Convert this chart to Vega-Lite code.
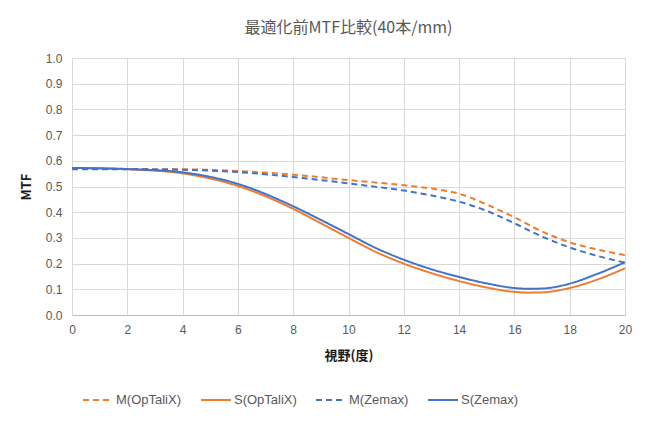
{
  "$schema": "https://vega.github.io/schema/vega-lite/v6.json",
  "width": 553,
  "height": 257,
  "autosize": {"type": "none"},
  "padding": {"left": 72, "top": 58, "right": 21, "bottom": 107},
  "background": "white",
  "title": {
    "text": "最適化前MTF比較(40本/mm)",
    "font": "Noto Sans CJK JP",
    "fontSize": 16,
    "fontWeight": "normal",
    "color": "#595959",
    "anchor": "middle",
    "offset": 16
  },
  "config": {
    "view": {"stroke": null},
    "axis": {
      "labelFont": "Liberation Sans",
      "labelFontSize": 12,
      "labelColor": "#595959",
      "gridColor": "#d9d9d9",
      "gridWidth": 1,
      "domainColor": "#bfbfbf",
      "tickSize": 0,
      "labelFlush": false,
      "titleFont": "Noto Sans CJK JP",
      "titleFontSize": 13,
      "titleFontWeight": "bold",
      "titleColor": "#1a1a1a"
    }
  },
  "data": {
    "values": [
      {"x": 0, "y": 0.570, "s": "M(OpTaliX)"},
      {"x": 2, "y": 0.568, "s": "M(OpTaliX)"},
      {"x": 4, "y": 0.567, "s": "M(OpTaliX)"},
      {"x": 6, "y": 0.560, "s": "M(OpTaliX)"},
      {"x": 8, "y": 0.546, "s": "M(OpTaliX)"},
      {"x": 10, "y": 0.525, "s": "M(OpTaliX)"},
      {"x": 12, "y": 0.505, "s": "M(OpTaliX)"},
      {"x": 13, "y": 0.492, "s": "M(OpTaliX)"},
      {"x": 14, "y": 0.472, "s": "M(OpTaliX)"},
      {"x": 15, "y": 0.430, "s": "M(OpTaliX)"},
      {"x": 16, "y": 0.380, "s": "M(OpTaliX)"},
      {"x": 17, "y": 0.325, "s": "M(OpTaliX)"},
      {"x": 18, "y": 0.283, "s": "M(OpTaliX)"},
      {"x": 19, "y": 0.255, "s": "M(OpTaliX)"},
      {"x": 20, "y": 0.233, "s": "M(OpTaliX)"},
      {"x": 0, "y": 0.572, "s": "S(OpTaliX)"},
      {"x": 2, "y": 0.567, "s": "S(OpTaliX)"},
      {"x": 4, "y": 0.551, "s": "S(OpTaliX)"},
      {"x": 6, "y": 0.502, "s": "S(OpTaliX)"},
      {"x": 8, "y": 0.413, "s": "S(OpTaliX)"},
      {"x": 9, "y": 0.357, "s": "S(OpTaliX)"},
      {"x": 10, "y": 0.300, "s": "S(OpTaliX)"},
      {"x": 11, "y": 0.245, "s": "S(OpTaliX)"},
      {"x": 12, "y": 0.200, "s": "S(OpTaliX)"},
      {"x": 13, "y": 0.163, "s": "S(OpTaliX)"},
      {"x": 14, "y": 0.132, "s": "S(OpTaliX)"},
      {"x": 15, "y": 0.107, "s": "S(OpTaliX)"},
      {"x": 16, "y": 0.090, "s": "S(OpTaliX)"},
      {"x": 16.5, "y": 0.087, "s": "S(OpTaliX)"},
      {"x": 17, "y": 0.088, "s": "S(OpTaliX)"},
      {"x": 18, "y": 0.105, "s": "S(OpTaliX)"},
      {"x": 19, "y": 0.138, "s": "S(OpTaliX)"},
      {"x": 20, "y": 0.182, "s": "S(OpTaliX)"},
      {"x": 0, "y": 0.567, "s": "M(Zemax)"},
      {"x": 2, "y": 0.567, "s": "M(Zemax)"},
      {"x": 4, "y": 0.565, "s": "M(Zemax)"},
      {"x": 6, "y": 0.556, "s": "M(Zemax)"},
      {"x": 8, "y": 0.537, "s": "M(Zemax)"},
      {"x": 10, "y": 0.512, "s": "M(Zemax)"},
      {"x": 12, "y": 0.484, "s": "M(Zemax)"},
      {"x": 13, "y": 0.465, "s": "M(Zemax)"},
      {"x": 14, "y": 0.441, "s": "M(Zemax)"},
      {"x": 15, "y": 0.405, "s": "M(Zemax)"},
      {"x": 16, "y": 0.357, "s": "M(Zemax)"},
      {"x": 17, "y": 0.305, "s": "M(Zemax)"},
      {"x": 18, "y": 0.263, "s": "M(Zemax)"},
      {"x": 19, "y": 0.230, "s": "M(Zemax)"},
      {"x": 20, "y": 0.204, "s": "M(Zemax)"},
      {"x": 0, "y": 0.572, "s": "S(Zemax)"},
      {"x": 2, "y": 0.568, "s": "S(Zemax)"},
      {"x": 4, "y": 0.555, "s": "S(Zemax)"},
      {"x": 6, "y": 0.510, "s": "S(Zemax)"},
      {"x": 8, "y": 0.423, "s": "S(Zemax)"},
      {"x": 9, "y": 0.370, "s": "S(Zemax)"},
      {"x": 10, "y": 0.315, "s": "S(Zemax)"},
      {"x": 11, "y": 0.260, "s": "S(Zemax)"},
      {"x": 12, "y": 0.215, "s": "S(Zemax)"},
      {"x": 13, "y": 0.178, "s": "S(Zemax)"},
      {"x": 14, "y": 0.148, "s": "S(Zemax)"},
      {"x": 15, "y": 0.123, "s": "S(Zemax)"},
      {"x": 16, "y": 0.105, "s": "S(Zemax)"},
      {"x": 16.5, "y": 0.102, "s": "S(Zemax)"},
      {"x": 17, "y": 0.103, "s": "S(Zemax)"},
      {"x": 18, "y": 0.122, "s": "S(Zemax)"},
      {"x": 19, "y": 0.160, "s": "S(Zemax)"},
      {"x": 20, "y": 0.205, "s": "S(Zemax)"}
    ]
  },
  "mark": {"type": "line", "interpolate": "monotone", "strokeWidth": 2},
  "encoding": {
    "x": {
      "field": "x", "type": "quantitative",
      "scale": {"domain": [0, 20], "nice": false},
      "axis": {"values": [0, 2, 4, 6, 8, 10, 12, 14, 16, 18, 20], "title": "視野(度)", "labelPadding": 9, "titlePadding": 14, "grid": true}
    },
    "y": {
      "field": "y", "type": "quantitative",
      "scale": {"domain": [0, 1]},
      "axis": {"values": [0, 0.1, 0.2, 0.3, 0.4, 0.5, 0.6, 0.7, 0.8, 0.9, 1.0], "format": ".1f", "title": "MTF", "labelPadding": 10, "titlePadding": 12, "domain": false}
    },
    "color": {
      "field": "s", "type": "nominal",
      "scale": {"domain": ["M(OpTaliX)", "S(OpTaliX)", "M(Zemax)", "S(Zemax)"], "range": ["#ed7d31", "#ed7d31", "#4472c4", "#4472c4"]},
      "legend": {
        "title": null,
        "orient": "none",
        "legendX": 10,
        "legendY": 326,
        "direction": "horizontal",
        "columns": 4,
        "symbolType": "stroke",
        "symbolSize": 900,
        "symbolStrokeWidth": 2,
        "labelFont": "Liberation Sans",
        "labelFontSize": 13,
        "labelColor": "#595959",
        "labelOffset": 2,
        "columnPadding": 15
      }
    },
    "strokeDash": {
      "field": "s", "type": "nominal",
      "scale": {"domain": ["M(OpTaliX)", "S(OpTaliX)", "M(Zemax)", "S(Zemax)"], "range": [[6, 4], [1, 0], [6, 4], [1, 0]]},
      "legend": {
        "title": null,
        "orient": "none",
        "legendX": 10,
        "legendY": 326,
        "direction": "horizontal",
        "columns": 4,
        "symbolType": "stroke",
        "symbolSize": 900,
        "symbolStrokeWidth": 2,
        "labelFont": "Liberation Sans",
        "labelFontSize": 13,
        "labelColor": "#595959",
        "labelOffset": 2,
        "columnPadding": 15
      }
    }
  }
}
